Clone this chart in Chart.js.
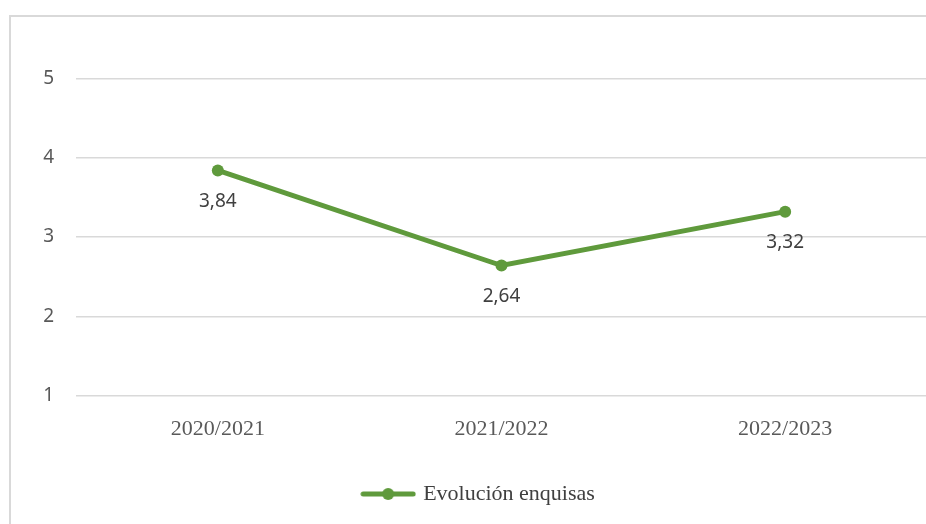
<!DOCTYPE html>
<html>
<head>
<meta charset="utf-8">
<script src="https://cdn.jsdelivr.net/npm/chart.js@4"></script>
<style>
  html, body { margin: 0; padding: 0; overflow: hidden; background: #ffffff; width: 926px; height: 524px; }
  #frame { position: absolute; left: 9px; top: 15px; width: 960px; height: 560px; border: 2px solid #d9d9d9; box-sizing: border-box; }
  #wrap { position: absolute; left: 0; top: 0; width: 958px; height: 524px; }
</style>
</head>
<body>
<div id="frame"></div>
<div id="wrap"><canvas id="c" width="958" height="524"></canvas></div>
<script>
const categories = ['2020/2021', '2021/2022', '2022/2023'];
const seriesName = 'Evolución enquisas';
const seriesValues = [3.84, 2.64, 3.32];
const yTicks = [1, 2, 3, 4, 5];

const green = '#5f9a3c';

// legend marker: line with a dot
const mark = document.createElement('canvas');
mark.width = 56; mark.height = 14;
(function () {
  const g = mark.getContext('2d');
  g.strokeStyle = green; g.lineWidth = 5; g.lineCap = 'round';
  g.beginPath(); g.moveTo(3, 7); g.lineTo(53, 7); g.stroke();
  g.fillStyle = green; g.beginPath(); g.arc(28, 7, 6, 0, Math.PI * 2); g.fill();
})();

const dataLabels = {
  id: 'dataLabels',
  afterDatasetsDraw(chart) {
    const ctx = chart.ctx;
    chart.data.datasets.forEach((ds, i) => {
      const meta = chart.getDatasetMeta(i);
      meta.data.forEach((pt, j) => {
        ctx.save();
        ctx.font = '19px "Noto Sans"';
        ctx.fillStyle = '#404040';
        ctx.textAlign = 'center';
        ctx.textBaseline = 'middle';
        ctx.fillText(ds.data[j].toFixed(2).replace('.', ','), pt.x, pt.y + 31);
        ctx.restore();
      });
    });
  }
};

new Chart(document.getElementById('c'), {
  type: 'line',
  data: {
    labels: categories,
    datasets: [{
      label: seriesName,
      data: seriesValues,
      borderColor: green,
      backgroundColor: green,
      borderWidth: 5,
      pointRadius: 6,
      pointHoverRadius: 6,
      pointBackgroundColor: green,
      pointBorderWidth: 0,
      tension: 0
    }]
  },
  options: {
    responsive: false,
    animation: false,
    devicePixelRatio: 1,
    layout: { padding: { top: 78.5, left: 32, right: 31, bottom: 9 } },
    scales: {
      x: {
        offset: true,
        grid: { display: false },
        border: { display: false },
        ticks: { color: '#595959', font: { family: '"Liberation Serif"', size: 22 }, padding: 13 },
        afterFit(s) { s.height = 77.5; }
      },
      y: {
        min: 1, max: 5,
        afterBuildTicks(s) { s.ticks = yTicks.map(v => ({ value: v })); },
        grid: { color: '#d9d9d9', lineWidth: 1.5, drawTicks: false },
        border: { display: false },
        ticks: { color: '#595959', font: { family: '"Noto Sans"', size: 19 }, padding: 22 },
        afterFit(s) { s.width = 44; }
      }
    },
    plugins: {
      legend: {
        position: 'bottom',
        labels: {
          usePointStyle: true,
          pointStyle: mark,
          pointStyleWidth: 48,
          padding: 10,
          color: '#404040',
          font: { family: '"Liberation Serif"', size: 22 }
        }
      },
      tooltip: { enabled: false }
    }
  },
  plugins: [dataLabels]
});
</script>
</body>
</html>
